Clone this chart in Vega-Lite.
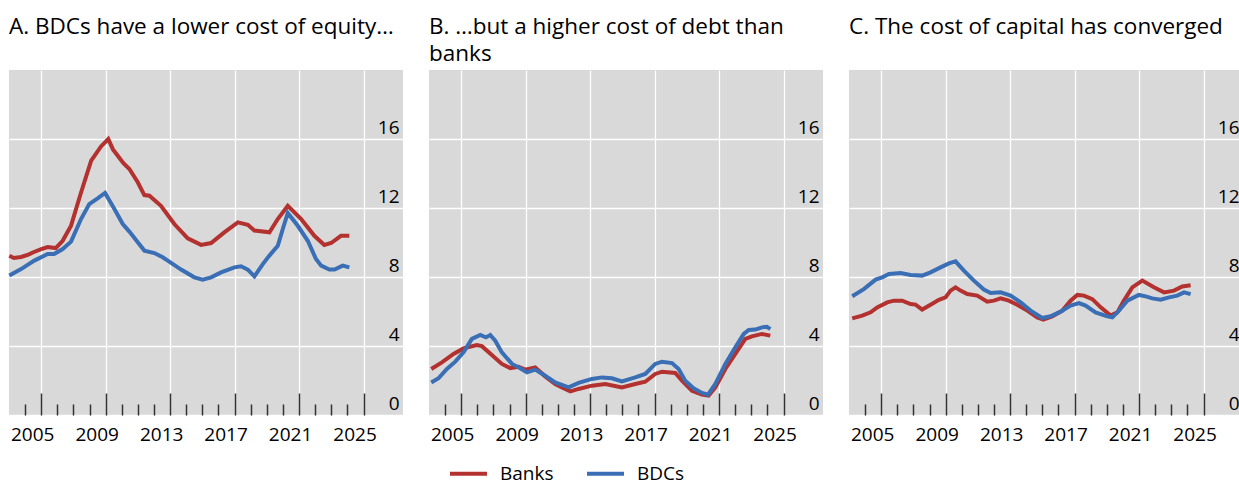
{
  "$schema": "https://vega.github.io/schema/vega-lite/v6.json",
  "padding": {"left": 1, "top": 15, "right": 0, "bottom": 0},
  "bounds": "flush",
  "spacing": 26,
  "config": {
    "view": {"fill": "#D9D9D9", "stroke": null},
    "font": "Open Sans",
    "axis": {"labelFont": "Open Sans", "labelColor": "#000000", "labelFontSize": 19, "title": null, "labelFlush": false, "labelOverlap": false, "labelBound": false},
    "legend": {"labelFont": "Open Sans", "labelColor": "#000000", "labelFontSize": 19},
    "title": {"font": "Open Sans", "fontSize": 22.5, "fontWeight": "normal", "color": "#000000", "anchor": "start", "frame": "group", "lineHeight": 27, "offset": 5, "baseline": "alphabetic"}
  },
  "datasets": {
    "series": [
      {"panel": "A", "series": "Banks", "year": 2004.02, "value": 9.23},
      {"panel": "A", "series": "Banks", "year": 2004.3, "value": 9.1},
      {"panel": "A", "series": "Banks", "year": 2004.75, "value": 9.16},
      {"panel": "A", "series": "Banks", "year": 2005.2, "value": 9.3},
      {"panel": "A", "series": "Banks", "year": 2005.55, "value": 9.45},
      {"panel": "A", "series": "Banks", "year": 2006.0, "value": 9.62},
      {"panel": "A", "series": "Banks", "year": 2006.4, "value": 9.74},
      {"panel": "A", "series": "Banks", "year": 2006.9, "value": 9.68},
      {"panel": "A", "series": "Banks", "year": 2007.33, "value": 10.1},
      {"panel": "A", "series": "Banks", "year": 2007.85, "value": 10.98},
      {"panel": "A", "series": "Banks", "year": 2008.47, "value": 12.9},
      {"panel": "A", "series": "Banks", "year": 2009.1, "value": 14.74},
      {"panel": "A", "series": "Banks", "year": 2009.71, "value": 15.57},
      {"panel": "A", "series": "Banks", "year": 2010.16, "value": 16.0},
      {"panel": "A", "series": "Banks", "year": 2010.45, "value": 15.4},
      {"panel": "A", "series": "Banks", "year": 2010.75, "value": 15.03},
      {"panel": "A", "series": "Banks", "year": 2011.1, "value": 14.6},
      {"panel": "A", "series": "Banks", "year": 2011.47, "value": 14.26},
      {"panel": "A", "series": "Banks", "year": 2011.99, "value": 13.49},
      {"panel": "A", "series": "Banks", "year": 2012.4, "value": 12.75},
      {"panel": "A", "series": "Banks", "year": 2012.71, "value": 12.71},
      {"panel": "A", "series": "Banks", "year": 2013.43, "value": 12.13},
      {"panel": "A", "series": "Banks", "year": 2014.26, "value": 11.07},
      {"panel": "A", "series": "Banks", "year": 2015.09, "value": 10.24},
      {"panel": "A", "series": "Banks", "year": 2015.92, "value": 9.86},
      {"panel": "A", "series": "Banks", "year": 2016.54, "value": 9.97},
      {"panel": "A", "series": "Banks", "year": 2017.36, "value": 10.59},
      {"panel": "A", "series": "Banks", "year": 2018.2, "value": 11.17},
      {"panel": "A", "series": "Banks", "year": 2018.82, "value": 11.03},
      {"panel": "A", "series": "Banks", "year": 2019.23, "value": 10.69},
      {"panel": "A", "series": "Banks", "year": 2020.16, "value": 10.59},
      {"panel": "A", "series": "Banks", "year": 2020.68, "value": 11.36},
      {"panel": "A", "series": "Banks", "year": 2021.3, "value": 12.13},
      {"panel": "A", "series": "Banks", "year": 2022.13, "value": 11.36},
      {"panel": "A", "series": "Banks", "year": 2022.95, "value": 10.39},
      {"panel": "A", "series": "Banks", "year": 2023.57, "value": 9.86},
      {"panel": "A", "series": "Banks", "year": 2023.99, "value": 9.97},
      {"panel": "A", "series": "Banks", "year": 2024.6, "value": 10.39},
      {"panel": "A", "series": "Banks", "year": 2025.12, "value": 10.39},

      {"panel": "A", "series": "BDCs", "year": 2004.02, "value": 8.08},
      {"panel": "A", "series": "BDCs", "year": 2004.75, "value": 8.46},
      {"panel": "A", "series": "BDCs", "year": 2005.57, "value": 8.95},
      {"panel": "A", "series": "BDCs", "year": 2006.4, "value": 9.33},
      {"panel": "A", "series": "BDCs", "year": 2006.8, "value": 9.33},
      {"panel": "A", "series": "BDCs", "year": 2007.33, "value": 9.62},
      {"panel": "A", "series": "BDCs", "year": 2007.85, "value": 10.05},
      {"panel": "A", "series": "BDCs", "year": 2008.47, "value": 11.36},
      {"panel": "A", "series": "BDCs", "year": 2008.98, "value": 12.23},
      {"panel": "A", "series": "BDCs", "year": 2009.5, "value": 12.56},
      {"panel": "A", "series": "BDCs", "year": 2009.96, "value": 12.87},
      {"panel": "A", "series": "BDCs", "year": 2010.54, "value": 11.94},
      {"panel": "A", "series": "BDCs", "year": 2011.06, "value": 11.07},
      {"panel": "A", "series": "BDCs", "year": 2011.47, "value": 10.63},
      {"panel": "A", "series": "BDCs", "year": 2011.99, "value": 10.01},
      {"panel": "A", "series": "BDCs", "year": 2012.4, "value": 9.53},
      {"panel": "A", "series": "BDCs", "year": 2013.02, "value": 9.39},
      {"panel": "A", "series": "BDCs", "year": 2013.54, "value": 9.14},
      {"panel": "A", "series": "BDCs", "year": 2013.85, "value": 8.95},
      {"panel": "A", "series": "BDCs", "year": 2014.68, "value": 8.43},
      {"panel": "A", "series": "BDCs", "year": 2015.5, "value": 7.98},
      {"panel": "A", "series": "BDCs", "year": 2016.02, "value": 7.84},
      {"panel": "A", "series": "BDCs", "year": 2016.54, "value": 7.98},
      {"panel": "A", "series": "BDCs", "year": 2017.16, "value": 8.27},
      {"panel": "A", "series": "BDCs", "year": 2017.99, "value": 8.56},
      {"panel": "A", "series": "BDCs", "year": 2018.4, "value": 8.62},
      {"panel": "A", "series": "BDCs", "year": 2018.82, "value": 8.43},
      {"panel": "A", "series": "BDCs", "year": 2019.23, "value": 8.04},
      {"panel": "A", "series": "BDCs", "year": 2019.75, "value": 8.75},
      {"panel": "A", "series": "BDCs", "year": 2020.16, "value": 9.24},
      {"panel": "A", "series": "BDCs", "year": 2020.68, "value": 9.81},
      {"panel": "A", "series": "BDCs", "year": 2020.99, "value": 10.78},
      {"panel": "A", "series": "BDCs", "year": 2021.3, "value": 11.71},
      {"panel": "A", "series": "BDCs", "year": 2021.92, "value": 10.97},
      {"panel": "A", "series": "BDCs", "year": 2022.54, "value": 10.1},
      {"panel": "A", "series": "BDCs", "year": 2023.05, "value": 9.04},
      {"panel": "A", "series": "BDCs", "year": 2023.37, "value": 8.66},
      {"panel": "A", "series": "BDCs", "year": 2023.88, "value": 8.43},
      {"panel": "A", "series": "BDCs", "year": 2024.2, "value": 8.43},
      {"panel": "A", "series": "BDCs", "year": 2024.71, "value": 8.66},
      {"panel": "A", "series": "BDCs", "year": 2025.12, "value": 8.56},

      {"panel": "B", "series": "Banks", "year": 2004.14, "value": 2.67},
      {"panel": "B", "series": "Banks", "year": 2004.8, "value": 3.05},
      {"panel": "B", "series": "Banks", "year": 2005.52, "value": 3.54},
      {"panel": "B", "series": "Banks", "year": 2006.14, "value": 3.86},
      {"panel": "B", "series": "Banks", "year": 2006.97, "value": 4.06},
      {"panel": "B", "series": "Banks", "year": 2007.28, "value": 3.99},
      {"panel": "B", "series": "Banks", "year": 2007.9, "value": 3.48},
      {"panel": "B", "series": "Banks", "year": 2008.52, "value": 2.96},
      {"panel": "B", "series": "Banks", "year": 2009.04, "value": 2.72},
      {"panel": "B", "series": "Banks", "year": 2009.56, "value": 2.8},
      {"panel": "B", "series": "Banks", "year": 2009.97, "value": 2.63},
      {"panel": "B", "series": "Banks", "year": 2010.59, "value": 2.76},
      {"panel": "B", "series": "Banks", "year": 2011.21, "value": 2.24},
      {"panel": "B", "series": "Banks", "year": 2011.83, "value": 1.8},
      {"panel": "B", "series": "Banks", "year": 2012.25, "value": 1.6},
      {"panel": "B", "series": "Banks", "year": 2012.77, "value": 1.37},
      {"panel": "B", "series": "Banks", "year": 2013.28, "value": 1.51},
      {"panel": "B", "series": "Banks", "year": 2014.11, "value": 1.7},
      {"panel": "B", "series": "Banks", "year": 2014.94, "value": 1.8},
      {"panel": "B", "series": "Banks", "year": 2015.97, "value": 1.6},
      {"panel": "B", "series": "Banks", "year": 2016.8, "value": 1.8},
      {"panel": "B", "series": "Banks", "year": 2017.42, "value": 1.93},
      {"panel": "B", "series": "Banks", "year": 2018.04, "value": 2.38},
      {"panel": "B", "series": "Banks", "year": 2018.46, "value": 2.51},
      {"panel": "B", "series": "Banks", "year": 2019.28, "value": 2.44},
      {"panel": "B", "series": "Banks", "year": 2019.7, "value": 1.99},
      {"panel": "B", "series": "Banks", "year": 2020.32, "value": 1.41},
      {"panel": "B", "series": "Banks", "year": 2020.94, "value": 1.18},
      {"panel": "B", "series": "Banks", "year": 2021.35, "value": 1.12},
      {"panel": "B", "series": "Banks", "year": 2021.77, "value": 1.6},
      {"panel": "B", "series": "Banks", "year": 2022.39, "value": 2.67},
      {"panel": "B", "series": "Banks", "year": 2023.01, "value": 3.54},
      {"panel": "B", "series": "Banks", "year": 2023.63, "value": 4.41},
      {"panel": "B", "series": "Banks", "year": 2024.04, "value": 4.56},
      {"panel": "B", "series": "Banks", "year": 2024.66, "value": 4.7},
      {"panel": "B", "series": "Banks", "year": 2025.18, "value": 4.6},

      {"panel": "B", "series": "BDCs", "year": 2004.14, "value": 1.89},
      {"panel": "B", "series": "BDCs", "year": 2004.59, "value": 2.13},
      {"panel": "B", "series": "BDCs", "year": 2005.11, "value": 2.67},
      {"panel": "B", "series": "BDCs", "year": 2005.63, "value": 3.09},
      {"panel": "B", "series": "BDCs", "year": 2006.14, "value": 3.63},
      {"panel": "B", "series": "BDCs", "year": 2006.66, "value": 4.41},
      {"panel": "B", "series": "BDCs", "year": 2007.18, "value": 4.64},
      {"panel": "B", "series": "BDCs", "year": 2007.53, "value": 4.5},
      {"panel": "B", "series": "BDCs", "year": 2007.8, "value": 4.64},
      {"panel": "B", "series": "BDCs", "year": 2008.11, "value": 4.31},
      {"panel": "B", "series": "BDCs", "year": 2008.52, "value": 3.63},
      {"panel": "B", "series": "BDCs", "year": 2009.15, "value": 2.96},
      {"panel": "B", "series": "BDCs", "year": 2009.66, "value": 2.71},
      {"panel": "B", "series": "BDCs", "year": 2010.08, "value": 2.47},
      {"panel": "B", "series": "BDCs", "year": 2010.59, "value": 2.63},
      {"panel": "B", "series": "BDCs", "year": 2011.21, "value": 2.28},
      {"panel": "B", "series": "BDCs", "year": 2011.83, "value": 1.89},
      {"panel": "B", "series": "BDCs", "year": 2012.66, "value": 1.6},
      {"panel": "B", "series": "BDCs", "year": 2013.28, "value": 1.86},
      {"panel": "B", "series": "BDCs", "year": 2014.11, "value": 2.09},
      {"panel": "B", "series": "BDCs", "year": 2014.73, "value": 2.18},
      {"panel": "B", "series": "BDCs", "year": 2015.35, "value": 2.13},
      {"panel": "B", "series": "BDCs", "year": 2015.97, "value": 1.95},
      {"panel": "B", "series": "BDCs", "year": 2016.8, "value": 2.18},
      {"panel": "B", "series": "BDCs", "year": 2017.42, "value": 2.38},
      {"panel": "B", "series": "BDCs", "year": 2018.04, "value": 2.96},
      {"panel": "B", "series": "BDCs", "year": 2018.46, "value": 3.09},
      {"panel": "B", "series": "BDCs", "year": 2019.08, "value": 3.01},
      {"panel": "B", "series": "BDCs", "year": 2019.49, "value": 2.67},
      {"panel": "B", "series": "BDCs", "year": 2019.9, "value": 1.99},
      {"panel": "B", "series": "BDCs", "year": 2020.42, "value": 1.55},
      {"panel": "B", "series": "BDCs", "year": 2020.94, "value": 1.28},
      {"panel": "B", "series": "BDCs", "year": 2021.31, "value": 1.18},
      {"panel": "B", "series": "BDCs", "year": 2021.77, "value": 1.8},
      {"panel": "B", "series": "BDCs", "year": 2022.39, "value": 2.96},
      {"panel": "B", "series": "BDCs", "year": 2023.01, "value": 3.92},
      {"panel": "B", "series": "BDCs", "year": 2023.53, "value": 4.7},
      {"panel": "B", "series": "BDCs", "year": 2023.84, "value": 4.93},
      {"panel": "B", "series": "BDCs", "year": 2024.25, "value": 4.95},
      {"panel": "B", "series": "BDCs", "year": 2024.66, "value": 5.08},
      {"panel": "B", "series": "BDCs", "year": 2024.97, "value": 5.11},
      {"panel": "B", "series": "BDCs", "year": 2025.18, "value": 4.98},

      {"panel": "C", "series": "Banks", "year": 2004.2, "value": 5.6},
      {"panel": "C", "series": "Banks", "year": 2004.82, "value": 5.76},
      {"panel": "C", "series": "Banks", "year": 2005.34, "value": 5.95},
      {"panel": "C", "series": "Banks", "year": 2005.75, "value": 6.24},
      {"panel": "C", "series": "Banks", "year": 2006.37, "value": 6.53},
      {"panel": "C", "series": "Banks", "year": 2006.79, "value": 6.63},
      {"panel": "C", "series": "Banks", "year": 2007.3, "value": 6.63},
      {"panel": "C", "series": "Banks", "year": 2007.82, "value": 6.43},
      {"panel": "C", "series": "Banks", "year": 2008.13, "value": 6.4},
      {"panel": "C", "series": "Banks", "year": 2008.54, "value": 6.11},
      {"panel": "C", "series": "Banks", "year": 2009.06, "value": 6.39},
      {"panel": "C", "series": "Banks", "year": 2009.58, "value": 6.68},
      {"panel": "C", "series": "Banks", "year": 2009.99, "value": 6.82},
      {"panel": "C", "series": "Banks", "year": 2010.3, "value": 7.21},
      {"panel": "C", "series": "Banks", "year": 2010.61, "value": 7.4},
      {"panel": "C", "series": "Banks", "year": 2010.92, "value": 7.21},
      {"panel": "C", "series": "Banks", "year": 2011.34, "value": 7.01},
      {"panel": "C", "series": "Banks", "year": 2011.96, "value": 6.92},
      {"panel": "C", "series": "Banks", "year": 2012.58, "value": 6.57},
      {"panel": "C", "series": "Banks", "year": 2012.99, "value": 6.63},
      {"panel": "C", "series": "Banks", "year": 2013.41, "value": 6.76},
      {"panel": "C", "series": "Banks", "year": 2013.92, "value": 6.63},
      {"panel": "C", "series": "Banks", "year": 2014.44, "value": 6.39},
      {"panel": "C", "series": "Banks", "year": 2015.06, "value": 6.05},
      {"panel": "C", "series": "Banks", "year": 2015.68, "value": 5.66},
      {"panel": "C", "series": "Banks", "year": 2016.06, "value": 5.53},
      {"panel": "C", "series": "Banks", "year": 2016.61, "value": 5.72},
      {"panel": "C", "series": "Banks", "year": 2017.24, "value": 6.05},
      {"panel": "C", "series": "Banks", "year": 2017.75, "value": 6.63},
      {"panel": "C", "series": "Banks", "year": 2018.17, "value": 6.96},
      {"panel": "C", "series": "Banks", "year": 2018.58, "value": 6.92},
      {"panel": "C", "series": "Banks", "year": 2019.1, "value": 6.72},
      {"panel": "C", "series": "Banks", "year": 2019.62, "value": 6.24},
      {"panel": "C", "series": "Banks", "year": 2020.24, "value": 5.76},
      {"panel": "C", "series": "Banks", "year": 2020.65, "value": 5.95},
      {"panel": "C", "series": "Banks", "year": 2021.06, "value": 6.63},
      {"panel": "C", "series": "Banks", "year": 2021.58, "value": 7.4},
      {"panel": "C", "series": "Banks", "year": 2022.2, "value": 7.79},
      {"panel": "C", "series": "Banks", "year": 2022.92, "value": 7.4},
      {"panel": "C", "series": "Banks", "year": 2023.55, "value": 7.11},
      {"panel": "C", "series": "Banks", "year": 2024.17, "value": 7.21},
      {"panel": "C", "series": "Banks", "year": 2024.68, "value": 7.45},
      {"panel": "C", "series": "Banks", "year": 2025.2, "value": 7.52},

      {"panel": "C", "series": "BDCs", "year": 2004.2, "value": 6.88},
      {"panel": "C", "series": "BDCs", "year": 2004.92, "value": 7.3},
      {"panel": "C", "series": "BDCs", "year": 2005.65, "value": 7.85},
      {"panel": "C", "series": "BDCs", "year": 2006.06, "value": 7.98},
      {"panel": "C", "series": "BDCs", "year": 2006.48, "value": 8.17},
      {"panel": "C", "series": "BDCs", "year": 2007.2, "value": 8.23},
      {"panel": "C", "series": "BDCs", "year": 2007.82, "value": 8.12},
      {"panel": "C", "series": "BDCs", "year": 2008.54, "value": 8.08},
      {"panel": "C", "series": "BDCs", "year": 2009.06, "value": 8.27},
      {"panel": "C", "series": "BDCs", "year": 2009.68, "value": 8.56},
      {"panel": "C", "series": "BDCs", "year": 2010.2, "value": 8.79},
      {"panel": "C", "series": "BDCs", "year": 2010.61, "value": 8.91},
      {"panel": "C", "series": "BDCs", "year": 2011.13, "value": 8.37},
      {"panel": "C", "series": "BDCs", "year": 2011.75, "value": 7.79},
      {"panel": "C", "series": "BDCs", "year": 2012.37, "value": 7.27},
      {"panel": "C", "series": "BDCs", "year": 2012.79, "value": 7.07},
      {"panel": "C", "series": "BDCs", "year": 2013.41, "value": 7.11},
      {"panel": "C", "series": "BDCs", "year": 2014.03, "value": 6.92},
      {"panel": "C", "series": "BDCs", "year": 2014.65, "value": 6.53},
      {"panel": "C", "series": "BDCs", "year": 2015.27, "value": 6.05},
      {"panel": "C", "series": "BDCs", "year": 2015.99, "value": 5.62},
      {"panel": "C", "series": "BDCs", "year": 2016.51, "value": 5.72},
      {"panel": "C", "series": "BDCs", "year": 2017.13, "value": 5.99},
      {"panel": "C", "series": "BDCs", "year": 2017.75, "value": 6.34},
      {"panel": "C", "series": "BDCs", "year": 2018.27, "value": 6.49},
      {"panel": "C", "series": "BDCs", "year": 2018.68, "value": 6.34},
      {"panel": "C", "series": "BDCs", "year": 2019.3, "value": 5.95},
      {"panel": "C", "series": "BDCs", "year": 2020.03, "value": 5.72},
      {"panel": "C", "series": "BDCs", "year": 2020.34, "value": 5.66},
      {"panel": "C", "series": "BDCs", "year": 2020.75, "value": 6.05},
      {"panel": "C", "series": "BDCs", "year": 2021.27, "value": 6.63},
      {"panel": "C", "series": "BDCs", "year": 2021.99, "value": 6.96},
      {"panel": "C", "series": "BDCs", "year": 2022.41, "value": 6.88},
      {"panel": "C", "series": "BDCs", "year": 2022.82, "value": 6.76},
      {"panel": "C", "series": "BDCs", "year": 2023.34, "value": 6.68},
      {"panel": "C", "series": "BDCs", "year": 2023.86, "value": 6.82},
      {"panel": "C", "series": "BDCs", "year": 2024.37, "value": 6.92},
      {"panel": "C", "series": "BDCs", "year": 2024.79, "value": 7.11},
      {"panel": "C", "series": "BDCs", "year": 2025.2, "value": 7.01}
    ]
  },
  "resolve": {"scale": {"color": "shared"}, "legend": {"color": "shared"}},
  "hconcat": [
    {
      "width": 394, "height": 345,
      "title": {"text": ["A. BDCs have a lower cost of equity…", " "]},
      "data": {"name": "series"},
      "transform": [{"filter": "datum.panel == 'A'"}],
      "layer": [
        {
          "mark": {"type": "line", "strokeWidth": 4},
          "encoding": {
            "x": {"field": "year", "type": "quantitative", "scale": {"domain": [2004, 2028.45], "nice": false, "zero": false},
              "axis": {"orient": "bottom", "values": [2006, 2010, 2014, 2018, 2022, 2026], "offset": -22, "tickSize": 22, "tickColor": "#333333", "tickWidth": 1.5, "domain": false, "grid": true, "gridColor": "#FFFFFF", "gridWidth": 1.3, "labelExpr": "datum.value - 1", "labelOffset": -9, "labelPadding": 10, "labelFontSize": 19}},
            "y": {"field": "value", "type": "quantitative", "scale": {"domain": [0, 20], "nice": false},
              "axis": {"orient": "right", "values": [0, 4, 8, 12, 16], "domain": false, "ticks": false, "tickSize": 0, "grid": true, "gridColor": "#FFFFFF", "gridWidth": 1.3, "labelAlign": "right", "labelPadding": -4, "labelBaseline": "alphabetic", "labelOffset": -6, "labelFontSize": 19}},
            "color": {"field": "series", "type": "nominal", "scale": {"domain": ["Banks", "BDCs"], "range": ["#B3312F", "#3A6EB5"]},
              "legend": {"orient": "none", "legendX": 439, "legendY": 383, "direction": "horizontal", "title": null, "symbolType": "stroke", "symbolSize": 1369, "symbolStrokeWidth": 4, "labelOffset": 11, "columnPadding": 25, "padding": 0, "labelFontSize": 19}}
          }
        },
        {
          "mark": {"type": "line", "opacity": 0},
          "encoding": {
            "x": {"field": "year", "type": "quantitative",
              "axis": {"orient": "bottom", "values": [2005, 2007, 2008, 2009, 2011, 2012, 2013, 2015, 2016, 2017, 2019, 2020, 2021, 2023, 2024, 2025], "offset": -11, "tickSize": 11, "tickColor": "#333333", "tickWidth": 1.5, "domain": false, "grid": false, "labels": false}},
            "detail": {"field": "series", "type": "nominal"}
          }
        }
      ],
      "resolve": {"axis": {"x": "independent"}}
    },
    {
      "width": 394, "height": 345,
      "title": {"text": ["B. …but a higher cost of debt than", "banks"]},
      "data": {"name": "series"},
      "transform": [{"filter": "datum.panel == 'B'"}],
      "layer": [
        {
          "mark": {"type": "line", "strokeWidth": 4},
          "encoding": {
            "x": {"field": "year", "type": "quantitative", "scale": {"domain": [2004, 2028.45], "nice": false, "zero": false},
              "axis": {"orient": "bottom", "values": [2006, 2010, 2014, 2018, 2022, 2026], "offset": -22, "tickSize": 22, "tickColor": "#333333", "tickWidth": 1.5, "domain": false, "grid": true, "gridColor": "#FFFFFF", "gridWidth": 1.3, "labelExpr": "datum.value - 1", "labelOffset": -9, "labelPadding": 10, "labelFontSize": 19}},
            "y": {"field": "value", "type": "quantitative", "scale": {"domain": [0, 20], "nice": false},
              "axis": {"orient": "right", "values": [0, 4, 8, 12, 16], "domain": false, "ticks": false, "tickSize": 0, "grid": true, "gridColor": "#FFFFFF", "gridWidth": 1.3, "labelAlign": "right", "labelPadding": -4, "labelBaseline": "alphabetic", "labelOffset": -6, "labelFontSize": 19}},
            "color": {"field": "series", "type": "nominal", "scale": {"domain": ["Banks", "BDCs"], "range": ["#B3312F", "#3A6EB5"]},
              "legend": {"orient": "none", "legendX": 439, "legendY": 383, "direction": "horizontal", "title": null, "symbolType": "stroke", "symbolSize": 1369, "symbolStrokeWidth": 4, "labelOffset": 11, "columnPadding": 25, "padding": 0, "labelFontSize": 19}}
          }
        },
        {
          "mark": {"type": "line", "opacity": 0},
          "encoding": {
            "x": {"field": "year", "type": "quantitative",
              "axis": {"orient": "bottom", "values": [2005, 2007, 2008, 2009, 2011, 2012, 2013, 2015, 2016, 2017, 2019, 2020, 2021, 2023, 2024, 2025], "offset": -11, "tickSize": 11, "tickColor": "#333333", "tickWidth": 1.5, "domain": false, "grid": false, "labels": false}},
            "detail": {"field": "series", "type": "nominal"}
          }
        }
      ],
      "resolve": {"axis": {"x": "independent"}}
    },
    {
      "width": 394, "height": 345,
      "title": {"text": ["C. The cost of capital has converged", " "]},
      "data": {"name": "series"},
      "transform": [{"filter": "datum.panel == 'C'"}],
      "layer": [
        {
          "mark": {"type": "line", "strokeWidth": 4},
          "encoding": {
            "x": {"field": "year", "type": "quantitative", "scale": {"domain": [2004, 2028.45], "nice": false, "zero": false},
              "axis": {"orient": "bottom", "values": [2006, 2010, 2014, 2018, 2022, 2026], "offset": -22, "tickSize": 22, "tickColor": "#333333", "tickWidth": 1.5, "domain": false, "grid": true, "gridColor": "#FFFFFF", "gridWidth": 1.3, "labelExpr": "datum.value - 1", "labelOffset": -9, "labelPadding": 10, "labelFontSize": 19}},
            "y": {"field": "value", "type": "quantitative", "scale": {"domain": [0, 20], "nice": false},
              "axis": {"orient": "right", "values": [0, 4, 8, 12, 16], "domain": false, "ticks": false, "tickSize": 0, "grid": true, "gridColor": "#FFFFFF", "gridWidth": 1.3, "labelAlign": "right", "labelPadding": -4, "labelBaseline": "alphabetic", "labelOffset": -6, "labelFontSize": 19}},
            "color": {"field": "series", "type": "nominal", "scale": {"domain": ["Banks", "BDCs"], "range": ["#B3312F", "#3A6EB5"]},
              "legend": {"orient": "none", "legendX": 439, "legendY": 383, "direction": "horizontal", "title": null, "symbolType": "stroke", "symbolSize": 1369, "symbolStrokeWidth": 4, "labelOffset": 11, "columnPadding": 25, "padding": 0, "labelFontSize": 19}}
          }
        },
        {
          "mark": {"type": "line", "opacity": 0},
          "encoding": {
            "x": {"field": "year", "type": "quantitative",
              "axis": {"orient": "bottom", "values": [2005, 2007, 2008, 2009, 2011, 2012, 2013, 2015, 2016, 2017, 2019, 2020, 2021, 2023, 2024, 2025], "offset": -11, "tickSize": 11, "tickColor": "#333333", "tickWidth": 1.5, "domain": false, "grid": false, "labels": false}},
            "detail": {"field": "series", "type": "nominal"}
          }
        }
      ],
      "resolve": {"axis": {"x": "independent"}}
    }
  ]
}
